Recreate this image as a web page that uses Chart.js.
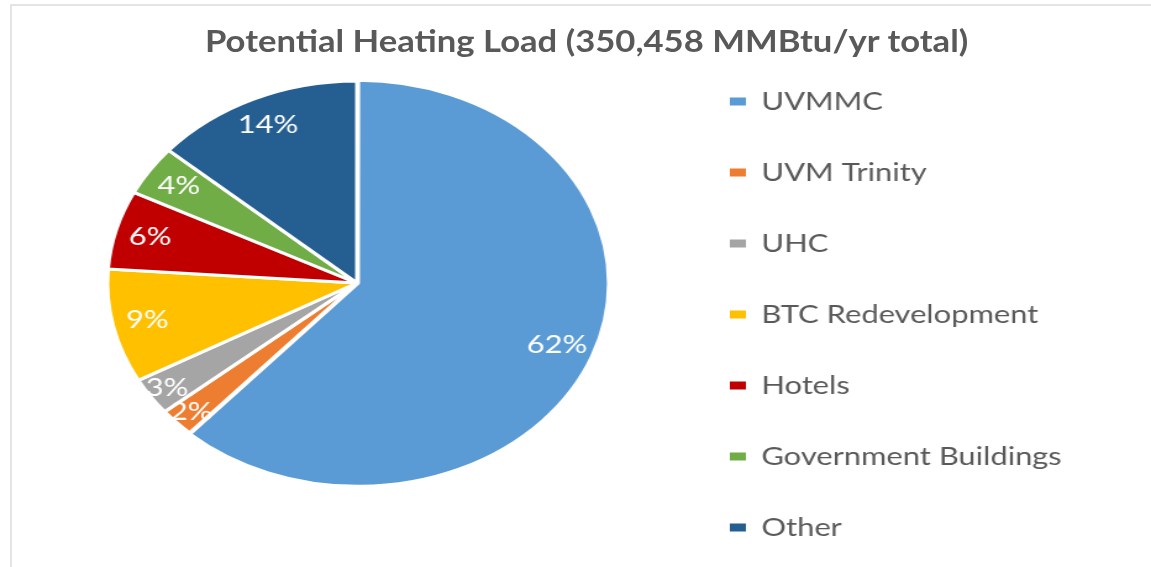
<!DOCTYPE html>
<html>
<head>
<meta charset="utf-8">
<script src="https://cdn.jsdelivr.net/npm/chart.js@4.4.1/dist/chart.umd.min.js"></script>
<style>
  html, body { margin: 0; padding: 0; background: #ffffff; width: 1151px; height: 567px; overflow: hidden; }
  #frame { position: absolute; left: 10px; top: 4px; width: 1200px; height: 600px;
           border-top: 2px solid #e4e4e4; border-left: 2px solid #e4e4e4; box-sizing: border-box; }
  #stretch { position: absolute; left: 0; top: 0; width: 932px; height: 567px; overflow: hidden;
             transform-origin: 0 0; }
  #chart { position: absolute; left: 0; top: -20px; }
  #title { position: absolute; top: 0; left: 0; white-space: nowrap; font-family: Lato, sans-serif;
           font-weight: bold; font-size: 30px; line-height: 30px; color: #595959; transform-origin: 50% 50%; }
</style>
</head>
<body>
<div id="frame"></div>
<div id="stretch"><canvas id="chart" width="932" height="606"></canvas></div>
<div id="title"></div>
<script>
// ---- data ----
const categories = ['UVMMC', 'UVM Trinity', 'UHC', 'BTC Redevelopment', 'Hotels', 'Government Buildings', 'Other'];
const heatingLoad = [216233, 8061, 10514, 31892, 22079, 14018, 47661]; // MMBtu/yr
const sliceColors = ['#5B9BD5', '#ED7D31', '#A5A5A5', '#FFC000', '#C00000', '#70AD47', '#255E91'];

// ---- layout constants ----
const W = 932, SCALE = 1151 / W;
const LEG_FONT = 25, LEG_PAD = 46, BOX_W = 13, BOX_H = 8;
const PAD_L = 33, LEGEND_LEFT = 545;

document.getElementById('stretch').style.transform = 'scaleX(' + SCALE + ')';

const total = heatingLoad.reduce((a, b) => a + b, 0);

// title
const titleEl = document.getElementById('title');
titleEl.textContent = 'Potential Heating Load (' + total.toLocaleString('en-US') + ' MMBtu/yr total)';
const tw = titleEl.offsetWidth;
const targetW = 763;
titleEl.style.left = (586.5 - tw / 2) + 'px';
titleEl.style.top = '25px';
titleEl.style.transform = 'scaleX(' + (targetW / tw) + ')';

// legend width measurement, so the legend starts where the reference has it
const mctx = document.createElement('canvas').getContext('2d');
mctx.font = LEG_FONT + 'px Lato';
const maxText = Math.max(...categories.map(t => mctx.measureText(t).width));
const itemW = BOX_W + LEG_FONT / 2 + maxText;
const PAD_R = W - (LEGEND_LEFT + LEG_PAD + itemW + 10);

const sliceLabels = {
  id: 'sliceLabels',
  afterDatasetsDraw(chart) {
    const ctx = chart.ctx;
    const meta = chart.getDatasetMeta(0);
    const data = chart.data.datasets[0].data;
    const sum = data.reduce((a, b) => a + b, 0);
    ctx.save();
    ctx.fillStyle = '#ffffff';
    ctx.font = '25px Lato';
    ctx.textAlign = 'center';
    ctx.textBaseline = 'middle';
    meta.data.forEach((arc, i) => {
      const p = arc.getProps(['x', 'y', 'startAngle', 'endAngle', 'outerRadius'], true);
      const mid = (p.startAngle + p.endAngle) / 2;
      const share = data[i] / sum;
      const f = share < 0.035 ? 0.92 : 0.86;
      const rr = p.outerRadius * f;
      ctx.fillText(Math.round(share * 100) + '%', p.x + Math.cos(mid) * rr, p.y + Math.sin(mid) * rr);
    });
    ctx.restore();
  }
};

new Chart(document.getElementById('chart'), {
  type: 'pie',
  data: {
    labels: categories,
    datasets: [{
      data: heatingLoad,
      backgroundColor: sliceColors,
      borderColor: '#ffffff',
      borderWidth: 3,
      radius: 202,
      offset: (c) => (c.dataIndex === 0 ? 4 : 0)
    }]
  },
  options: {
    responsive: false,
    devicePixelRatio: 1,
    animation: false,
    events: [],
    layout: { padding: { left: PAD_L, right: PAD_R, top: 0, bottom: 0 } },
    plugins: {
      title: { display: false },
      tooltip: { enabled: false },
      legend: {
        display: true,
        position: 'right',
        align: 'end',
        labels: {
          padding: LEG_PAD,
          boxWidth: BOX_W,
          boxHeight: BOX_H,
          color: '#595959',
          font: { family: 'Lato', size: LEG_FONT },
          generateLabels(chart) {
            const items = Chart.overrides.pie.plugins.legend.labels.generateLabels(chart);
            return items.map(it => Object.assign(it, { lineWidth: 0, strokeStyle: it.fillStyle }));
          }
        }
      }
    }
  },
  plugins: [sliceLabels]
});
</script>
</body>
</html>
